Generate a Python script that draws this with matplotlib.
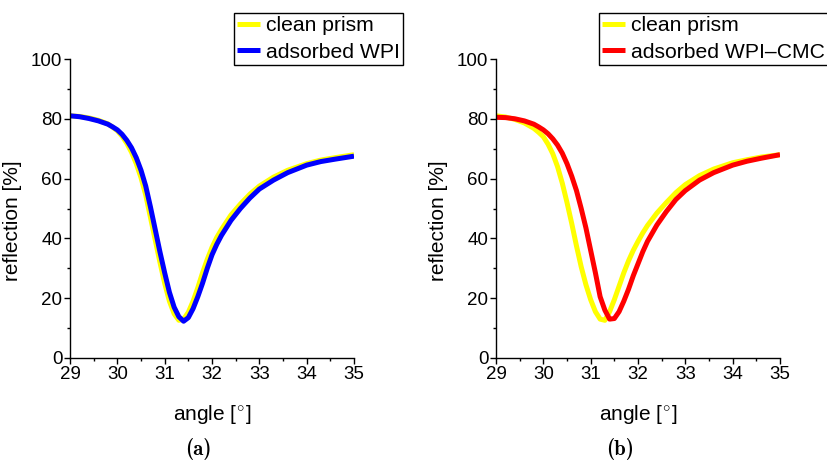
import matplotlib
matplotlib.use("Agg")
import matplotlib.pyplot as plt

plt.rcParams["font.family"] = ["Liberation Sans", "DejaVu Sans"]
plt.rcParams["mathtext.fontset"] = "cm"

# ── 数据 ──────────────────────────────────────────────
angle = [29.0, 29.2, 29.4, 29.6, 29.8, 29.9, 30.0, 30.1, 30.2, 30.3, 30.4, 30.5,
         30.6, 30.7, 30.8, 30.9, 31.0, 31.1, 31.2, 31.3, 31.4, 31.5, 31.6, 31.7,
         31.8, 31.9, 32.0, 32.1, 32.2, 32.4, 32.6, 32.8, 33.0, 33.3, 33.6, 34.0,
         34.3, 34.6, 35.0]

clean_a = [81, 80.8, 80.3, 79.5, 78.3, 77.2, 76, 74.2, 71.8, 68.8, 65, 60.3,
           54.5, 47, 39.5, 32, 25, 19, 14.8, 12.6, 13, 15.3, 19, 23.5,
           28.5, 33, 37, 40.3, 43, 47.8, 51.5, 54.8, 57.5, 60.5, 62.8, 65,
           66.2, 67, 68]
wpi     = [81, 80.7, 80.1, 79.3, 78.2, 77.3, 76.3, 74.8, 72.8, 70.3, 67, 62.8,
           57.5, 50.5, 43, 35.5, 28.5, 22, 17, 13.8, 12.3, 13.5, 16.5, 20.5,
           25, 30, 34.5, 38, 41, 46, 50, 53.5, 56.5, 59.5, 62, 64.5,
           65.7, 66.5, 67.5]

clean_b = [81, 80.6, 79.8, 78.6, 76.8, 75.5, 74, 71.5, 68.3, 64, 58.5, 52,
           45, 37.5, 30.5, 24.5, 19.5, 15.5, 13, 12.6, 15.5, 19.5, 24, 28.5,
           32.5, 36, 39, 41.8, 44.3, 48.5, 52, 55.3, 58, 61, 63.2, 65.3,
           66.3, 67.2, 68]
wpi_cmc = [80.5, 80.4, 80, 79.3, 78.2, 77.3, 76.3, 75, 73.3, 71.2, 68.5, 65,
           60.8, 56, 50, 43.5, 36, 28.5, 20.5, 16, 13, 13.2, 15.5, 19,
           23, 27.5, 31.5, 35.5, 39, 44.5, 49, 53, 56, 59.5, 62, 64.5,
           65.8, 66.8, 68]

panels = [
    (clean_a, wpi, "adsorbed WPI", "#0000ff", 70, 234, "(a)", 198),
    (clean_b, wpi_cmc, "adsorbed WPI–CMC", "#ff0000", 496, 599, "(b)", 620),
]

W, H = 828, 461
fig = plt.figure(figsize=(W / 100, H / 100), dpi=100)

for clean, ads, lab, col, x0, lx, cap, cx in panels:
    ax = fig.add_axes([x0 / W, 1 - 358 / H, 284 / W, 299 / H])
    ax.plot(angle, clean, color="#ffff00", lw=3.6, label="clean prism",
            solid_joinstyle="round", solid_capstyle="butt")
    ax.plot(angle, ads, color=col, lw=3.6, label=lab,
            solid_joinstyle="round", solid_capstyle="butt")
    ax.set_xlim(29, 35)
    ax.set_ylim(0, 100)
    ax.set_xticks(range(29, 36))
    ax.set_yticks(range(0, 101, 20))
    ax.set_xticks([29.5 + i for i in range(6)], minor=True)
    ax.set_yticks([10 + 20 * i for i in range(5)], minor=True)
    ax.tick_params(which="major", direction="out", length=4, width=1,
                   labelsize=13.5, pad=1.5)
    ax.tick_params(which="minor", direction="out", length=2.5, width=1)
    ax.spines[["top", "right"]].set_visible(False)
    for s in ("left", "bottom"):
        ax.spines[s].set_linewidth(1)
    ax.set_xlabel("angle [$^{\\circ}$]", fontsize=15)
    ax.set_ylabel("reflection [%]", fontsize=15)
    ax.yaxis.set_label_coords(-48 / 284, (358 - 221) / 299)
    ax.xaxis.set_label_coords(0.5, -(403 - 358) / 299)

    leg = fig.legend(loc="upper left", bbox_to_anchor=(lx / W, 1 - 13 / H),
                     bbox_transform=fig.transFigure, borderaxespad=0,
                     fontsize=15.2, handlelength=1.05, handletextpad=0.3,
                     labelspacing=0.35, borderpad=0.16, fancybox=False,
                     framealpha=1, edgecolor="black",
                     handles=ax.get_lines())
    leg.get_frame().set_linewidth(1)

    fig.text(cx / W, 1 - 449 / H, cap, ha="center", va="center",
             fontsize=15, family="cmb10")

fig.savefig("out.png", dpi=100)
